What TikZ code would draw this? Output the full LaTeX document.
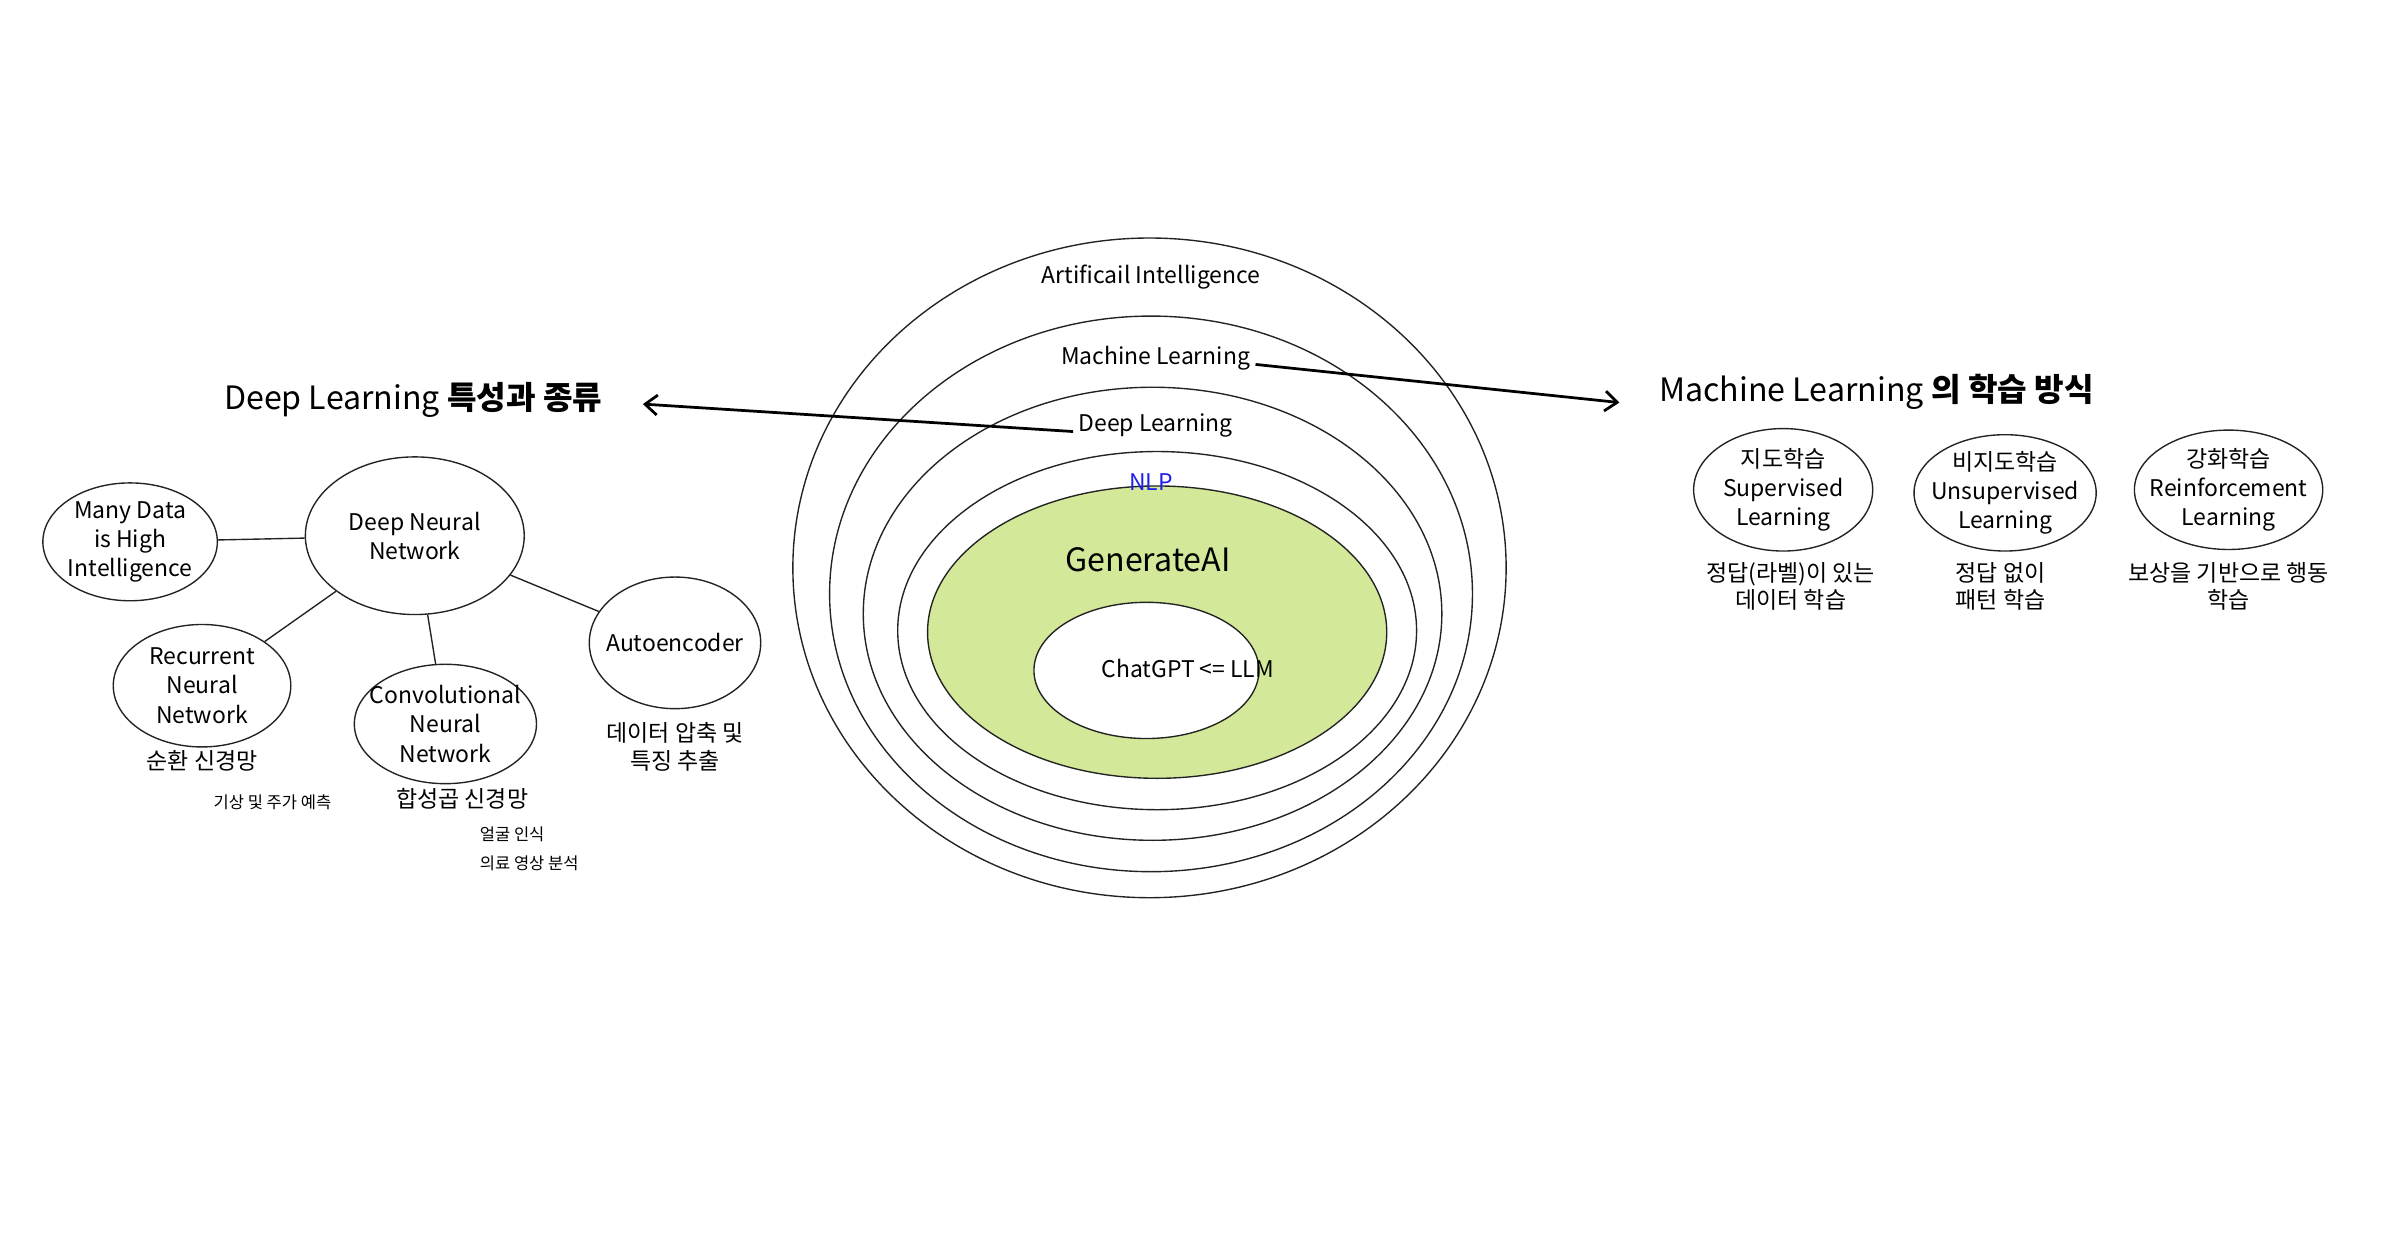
\documentclass[tikz,border=0pt]{standalone}
\usepackage{fontspec}
\setmainfont{Noto Sans CJK KR}
\usetikzlibrary{shapes.geometric, arrows.meta}
\definecolor{genfill}{RGB}{211,233,153}
\definecolor{nlpblue}{RGB}{30,30,235}
\definecolor{ink}{RGB}{35,35,35}

\begin{document}
\begin{tikzpicture}[x=1pt, y=-1pt, >={Straight Barb[length=8pt, width=13pt]},
  bubble/.style={ellipse, draw=ink, line width=0.9pt, inner sep=-8pt, align=center, font=\fontsize{15}{19}\selectfont},
  ring/.style={ellipse, draw=ink, line width=0.9pt, inner sep=0pt},
  ringtext/.style={font=\fontsize{15}{19}\selectfont},
  note/.style={align=center, font=\fontsize{15}{18}\selectfont},
  smallnote/.style={font=\fontsize{10.8}{13}\selectfont},
  headline/.style={font=\fontsize{21}{26}\selectfont},
  link/.style={draw=ink, line width=0.9pt},
  pointer/.style={->, line width=1.8pt}]
\useasboundingbox (0,0) rectangle (1568,813);
\fill[white] (0,0) rectangle (1568,813);

% nested fields
\node[ring, minimum width=466, minimum height=431] (ai) at (751,371) {};
\node[ring, minimum width=420, minimum height=363] (ml) at (752,388) {};
\node[ring, minimum width=378, minimum height=296] (dl) at (753,401) {};
\node[ring, minimum width=339, minimum height=234] (nlp) at (756,412) {};
\node[ring, fill=genfill, minimum width=300, minimum height=191] (genai) at (756,413) {};
\node[ring, fill=white, minimum width=147, minimum height=89] (llm) at (749,438) {};
\node[ringtext] (ainame) at (752,181) {Artificail Intelligence};
\node[ringtext] (mlname) at (755,234) {Machine Learning};
\node[ringtext] (dlname) at (755,278) {Deep Learning};
\node[ringtext, text=nlpblue] (nlpname) at (752,315) {NLP};
\node[headline] (genname) at (750,366) {GenerateAI};
\node[ringtext] (llmname) at (776,437) {ChatGPT <= LLM};

% Deep Learning
\node[headline] (dltitle) at (270,261) {Deep Learning \textbf{특성과 종류}};
\coordinate (dltip) at (420,264);
\draw[pointer] (dlname.base west) -- (dltip);
\node[bubble, minimum width=114, minimum height=77] (many) at (85,354) {Many Data\\is High\\Intelligence};
\node[bubble, minimum width=143, minimum height=103] (dnn) at (271,350) {Deep Neural\\Network};
\node[bubble, minimum width=116, minimum height=80] (rnn) at (132,448) {Recurrent\\Neural\\Network};
\node[bubble, minimum width=119, minimum height=78] (cnn) at (291,473) {Convolutional\\Neural\\Network};
\node[bubble, minimum width=112, minimum height=86] (auto) at (441,420) {Autoencoder};
\draw[link] (many) -- (dnn);
\draw[link] (dnn) -- (rnn);
\draw[link] (dnn) -- (cnn);
\draw[link] (dnn) -- (auto);
\node[note] (rnnnote) at (132,497) {순환 신경망};
\node[smallnote] (rnnuse) at (178,524) {기상 및 주가 예측};
\node[note] (cnnnote) at (302,522) {합성곱 신경망};
\node[smallnote, anchor=west] (cnnuse) at (310,545) {얼굴 인식};
\node[smallnote, anchor=west] (cnnuse2) at (310,564) {의료 영상 분석};
\node[note] (autonote) at (441,488) {데이터 압축 및\\특징 추출};

% Machine Learning
\node[headline] (mltitle) at (1226,256) {Machine Learning \textbf{의 학습 방식}};
\coordinate (mltip) at (1058,263);
\draw[pointer] (mlname.base east) -- (mltip);
\node[bubble, minimum width=117, minimum height=80] (sl) at (1165,320) {지도학습\\Supervised\\Learning};
\node[bubble, minimum width=119, minimum height=76] (ul) at (1310,322) {비지도학습\\Unsupervised\\Learning};
\node[bubble, minimum width=122, minimum height=78] (rl) at (1456,320) {강화학습\\Reinforcement\\Learning};
\node[note] (slnote) at (1170,383) {정답(라벨)이 있는\\데이터 학습};
\node[note] (ulnote) at (1307,383) {정답 없이\\패턴 학습};
\node[note] (rlnote) at (1456,383) {보상을 기반으로 행동\\학습};
\end{tikzpicture}
\end{document}
